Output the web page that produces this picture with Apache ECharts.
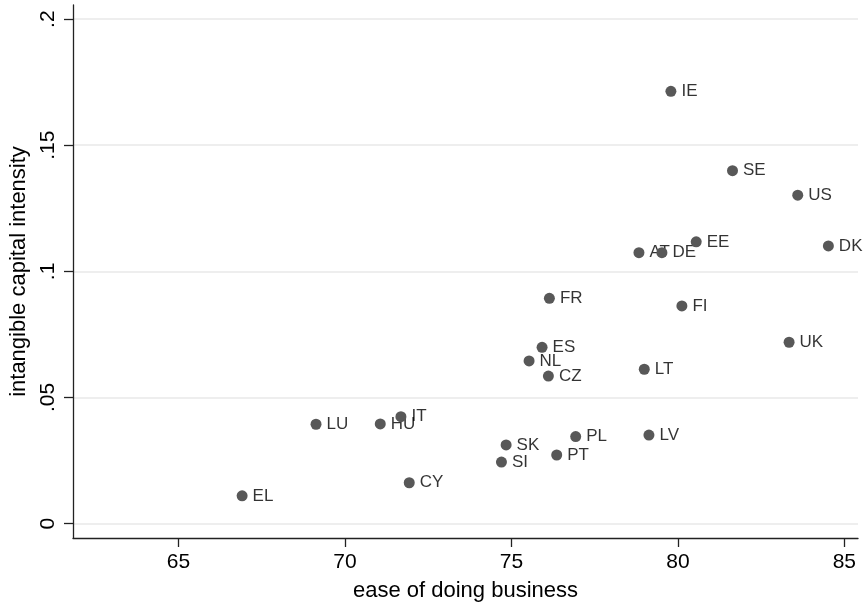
<!DOCTYPE html>
<html>
<head>
<meta charset="utf-8">
<script src="https://cdn.jsdelivr.net/npm/echarts@6/dist/echarts.min.js"></script>
<style>
html,body{margin:0;padding:0;background:#fff;}
#main{width:865px;height:607px;}
</style>
</head>
<body>
<div id="main"></div>
<script>
const countries = ['IE','SE','US','EE','DK','AT','DE','FI','FR','ES','NL','CZ','LT','UK','LU','HU','IT','CY','EL','SK','SI','PT','PL','LV'];
const easeOfBusiness = [79.79,81.64,83.60,80.55,84.52,78.83,79.52,80.12,76.14,75.92,75.53,76.11,78.99,83.34,69.13,71.06,71.68,71.93,66.91,74.84,74.70,76.36,76.93,79.13];
const intangibleIntensity = [0.1714,0.1399,0.1302,0.1117,0.1101,0.1074,0.1074,0.0863,0.0893,0.0699,0.0645,0.0585,0.0612,0.0719,0.0394,0.0395,0.0424,0.0162,0.0110,0.0312,0.0244,0.0272,0.0345,0.0351];
const xTicks = [65,70,75,80,85];
const yTicks = [0,0.05,0.1,0.15,0.2];
const yTickLabels = ['0','.05','.1','.15','.2'];

const points = countries.map((c,i)=>[easeOfBusiness[i], intangibleIntensity[i], c]);
const font = 'Liberation Sans, Arial, Helvetica, sans-serif';
const axisColor = '#222';
const xMin = 61.83, xMax = 85.41, yMin = -0.0057, yMax = 0.2056;

const chart = echarts.init(document.getElementById('main'), null, {renderer:'canvas'});
chart.setOption({
  animation:false,
  backgroundColor:'#ffffff',
  grid:{left:73,right:7,top:5,bottom:69,containLabel:false},
  xAxis:{
    type:'value', min:xMin, max:xMax,
    name:'ease of doing business', nameLocation:'middle', nameGap:42,
    nameTextStyle:{fontFamily:font,fontSize:22,color:'#000'},
    axisLine:{show:true,onZero:false,lineStyle:{color:axisColor,width:1.3}},
    axisTick:{show:true,customValues:xTicks,length:9,lineStyle:{color:axisColor,width:1.3}},
    axisLabel:{show:true,customValues:xTicks,margin:14,fontFamily:font,fontSize:21,color:'#000'},
    splitLine:{show:false}
  },
  yAxis:{
    type:'value', min:yMin, max:yMax,
    name:'intangible capital intensity', nameLocation:'middle', nameGap:40,
    nameTextStyle:{fontFamily:font,fontSize:22,color:'#000'},
    axisLine:{show:true,onZero:false,lineStyle:{color:axisColor,width:1.3}},
    axisTick:{show:true,customValues:yTicks,length:9,lineStyle:{color:axisColor,width:1.3}},
    axisLabel:{show:true,customValues:yTicks,rotate:90,margin:14,fontFamily:font,fontSize:21,color:'#000',
      formatter:function(v){const i=yTicks.findIndex(t=>Math.abs(t-v)<1e-9);return i>=0?yTickLabels[i]:'';}},
    splitLine:{show:true,lineStyle:{color:'#e8e8e8',width:1.5}}
  },
  series:[
    {
      type:'scatter', z:1, data:points, symbol:'circle', symbolSize:11,
      itemStyle:{color:'rgba(0,0,0,0)'},
      label:{show:true,position:'right',distance:5,fontFamily:font,fontSize:17,color:'#000',
        formatter:function(p){return p.value[2];}},
      silent:true
    },
    {
      type:'scatter', z:2, data:points, symbol:'circle', symbolSize:11,
      itemStyle:{color:'#585858',opacity:1},
      label:{show:false}
    }
  ]
});
</script>
</body>
</html>
